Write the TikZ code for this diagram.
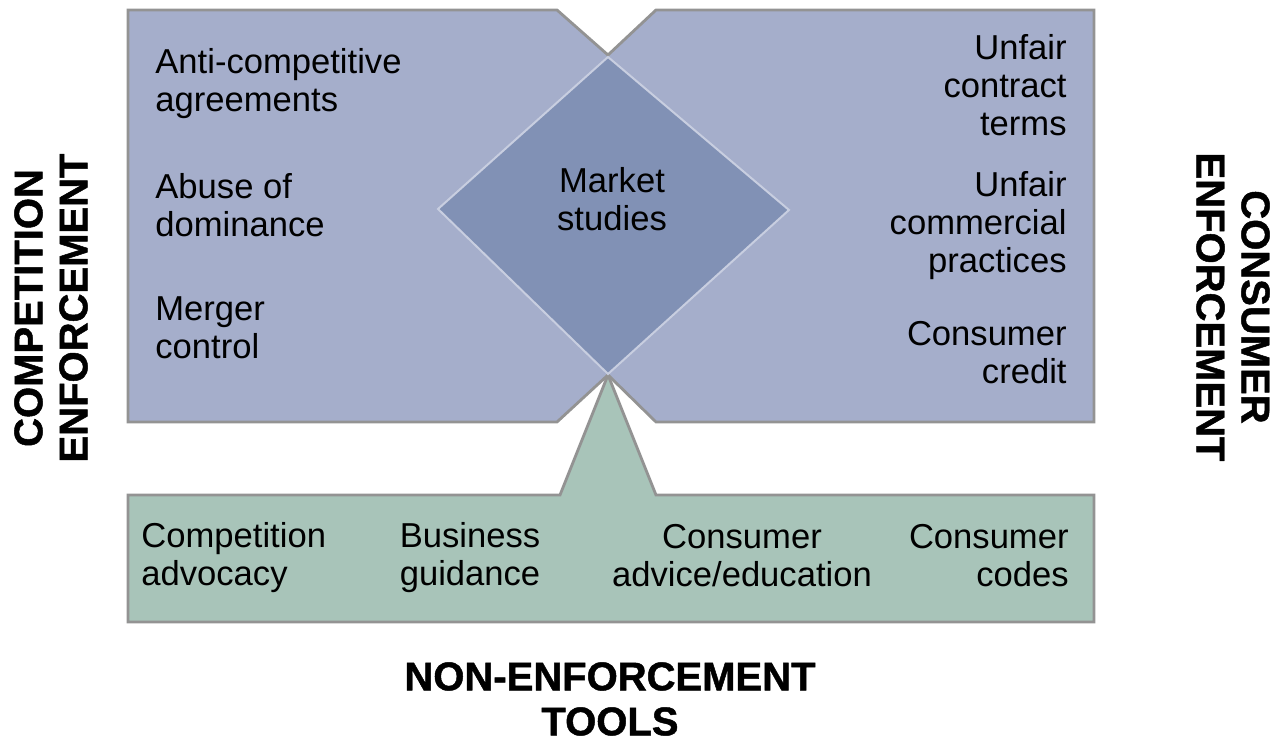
\documentclass[tikz,border=0pt]{standalone}
\usepackage{fontspec}
\setmainfont{Liberation Sans}
\newfontfamily\headfont{Liberation Sans Bold}[FakeBold=1.2]

\definecolor{panelblue}{HTML}{A5AECB}
\definecolor{studyblue}{HTML}{8191B5}
\definecolor{studyedge}{HTML}{C8CEE0}
\definecolor{panelgreen}{HTML}{A8C4B9}
\definecolor{edgegray}{HTML}{939393}

\begin{document}
\begin{tikzpicture}[x = 0.5pt, y = -0.5pt, % one unit = one pixel of the sketch
                line join = miter % sharp notch corners
            ]

            \tikzstyle{panel}=[draw = edgegray, line width = 1.4pt]
            \tikzstyle{item}=[font = \fontsize{17.3}{19}\selectfont, inner sep = 0pt]
            \tikzstyle{heading}=[font = \headfont\fontsize{20}{22.5}\selectfont,
            inner sep = 0pt, align = center]

            \useasboundingbox (0,0) rectangle (1282,742);

            % enforcement panels
            \draw[panel, fill = panelblue] (128,10) -- (557,10) -- (608,55) --
            (656,10) -- (1094,10) -- (1094,422) -- (656,422) -- (608,375) --
            (557,422) -- (128,422) -- cycle;
            % non-enforcement panel
            \draw[panel, fill = panelgreen] (128,495) -- (560,495) -- (608,375)
            -- (656,495) -- (1094,495) -- (1094,622) -- (128,622) -- cycle;
            % overlap
            \draw[draw = studyedge, line width = 1pt, fill = studyblue] (608,57)
            -- (789,210) -- (608,374) -- (438,209) -- cycle;

            \node[item, anchor = west, align = left] (anti) at (155,84)
            {Anti-competitive\\agreements};
            \node[item, anchor = west, align = left] (abuse) at (155,205)
            {Abuse of\\dominance};
            \node[item, anchor = west, align = left] (merger) at (155,328)
            {Merger\\control};

            \node[item, anchor = east, align = right] (terms) at (1067,85)
            {Unfair\\contract\\terms};
            \node[item, anchor = east, align = right] (practices) at (1067,226)
            {Unfair\\commercial\\practices};
            \node[item, anchor = east, align = right] (credit) at (1067,353)
            {Consumer\\credit};

            \node[item, align = center] (studies) at (612,199) {Market\\studies};

            \node[item, anchor = west, align = left] (advocacy) at (141,558)
            {Competition\\advocacy};
            \node[item, align = center] (guidance) at (470,558)
            {Business\\guidance};
            \node[item, align = center] (advice) at (742,556)
            {Consumer\\advice/education};
            \node[item, anchor = east, align = right] (codes) at (1069,556)
            {Consumer\\codes};

            \node[heading, rotate = 90] (competition) at (51,308)
            {COMPETITION\\ENFORCEMENT};
            \node[heading, rotate = -90] (consumer) at (1233,307)
            {CONSUMER\\ENFORCEMENT};
            \node[heading] (nonenf) at (610,699) {NON-ENFORCEMENT\\TOOLS};
        \end{tikzpicture}
\end{document}
